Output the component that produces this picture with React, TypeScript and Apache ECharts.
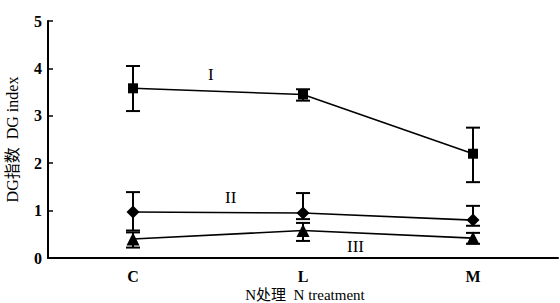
import React, { useEffect, useRef } from "react";
import * as echarts from "echarts";

const categories = ["C", "L", "M"];
const seriesI = [3.58, 3.45, 2.2];
const upperI = [4.05, 3.56, 2.75];
const lowerI = [3.1, 3.32, 1.6];
const seriesII = [0.97, 0.95, 0.8];
const upperII = [1.39, 1.37, 1.1];
const lowerII = [0.58, 0.82, 0.68];
const seriesIII = [0.4, 0.58, 0.42];
const upperIII = [0.54, 0.74, 0.53];
const lowerIII = [0.22, 0.36, 0.3];
const xTitle = "N处理  N treatment";
const yTitle = "DG指数  DG index";

const FONT = "'Liberation Serif', 'Times New Roman', 'Noto Sans CJK SC', serif";

function errData(upper: number[], lower: number[]) {
  return categories.map((_, i) => [i, lower[i], upper[i]]);
}

const renderErr = (params: any, api: any) => {
  const x = api.value(0);
  const lo = api.coord([x, api.value(1)]);
  const hi = api.coord([x, api.value(2)]);
  const hw = 7;
  const style = { stroke: "#000", lineWidth: 2 };
  return {
    type: "group",
    children: [
      { type: "line", shape: { x1: lo[0], y1: lo[1], x2: hi[0], y2: hi[1] }, style },
      { type: "line", shape: { x1: lo[0] - hw, y1: lo[1], x2: lo[0] + hw, y2: lo[1] }, style },
      { type: "line", shape: { x1: hi[0] - hw, y1: hi[1], x2: hi[0] + hw, y2: hi[1] }, style },
    ],
  };
};

export default function App() {
  const ref = useRef<HTMLDivElement>(null);
  useEffect(() => {
    const chart = echarts.init(ref.current!, null, { renderer: "svg" });
    const lineSeries = (name: string, data: number[], symbol: string, size: number) => ({
      name,
      type: "line",
      data,
      symbol,
      symbolSize: size,
      lineStyle: { color: "#000", width: 1.6 },
      itemStyle: { color: "#000" },
      z: 3,
    });
    chart.setOption({
      animation: false,
      backgroundColor: "#fff",
      textStyle: { fontFamily: FONT, color: "#000" },
      grid: { left: 48, right: 2, top: 21, bottom: 45, containLabel: false, outerBoundsMode: "none" },
      xAxis: {
        type: "category",
        data: categories,
        boundaryGap: true,
        axisLine: { lineStyle: { color: "#000", width: 2 } },
        axisTick: { inside: true, length: 5, lineStyle: { color: "#000", width: 1.5 } },
        axisLabel: { fontFamily: FONT, fontSize: 16, fontWeight: "bold", color: "#000", margin: 10 },
      },
      yAxis: {
        type: "value",
        min: 0,
        max: 5,
        interval: 1,
        splitLine: { show: false },
        axisLine: { show: true, lineStyle: { color: "#000", width: 2 } },
        axisTick: { show: true, inside: true, length: 5, lineStyle: { color: "#000", width: 1.5 } },
        axisLabel: { fontFamily: FONT, fontSize: 16, fontWeight: "bold", color: "#000", margin: 6 },
        name: yTitle,
        nameLocation: "middle",
        nameGap: 28,
        nameRotate: 90,
        nameTextStyle: { fontFamily: FONT, fontSize: 16, color: "#000" },
      },
      graphic: [
        {
          type: "text",
          x: 305,
          y: 295,
          style: {
            text: xTitle,
            font: `15px ${FONT}`,
            fill: "#000",
            textAlign: "center",
            textVerticalAlign: "middle",
          },
        },
        { type: "text", x: 208, y: 66, style: { text: "I", font: `17px ${FONT}`, fill: "#000" } },
        { type: "text", x: 225, y: 189, style: { text: "II", font: `17px ${FONT}`, fill: "#000" } },
        { type: "text", x: 347, y: 238, style: { text: "III", font: `17px ${FONT}`, fill: "#000" } },
      ],
      series: [
        lineSeries("I", seriesI, "rect", 10),
        lineSeries("II", seriesII, "diamond", 13),
        lineSeries("III", seriesIII, "triangle", 13),
        { type: "custom", renderItem: renderErr, data: errData(upperI, lowerI), z: 2 },
        { type: "custom", renderItem: renderErr, data: errData(upperII, lowerII), z: 2 },
        { type: "custom", renderItem: renderErr, data: errData(upperIII, lowerIII), z: 2 },
      ],
    });
    return () => chart.dispose();
  }, []);
  return <div ref={ref} style={{ width: 560, height: 303, position: "absolute", left: 0, top: 0 }} />;
}
